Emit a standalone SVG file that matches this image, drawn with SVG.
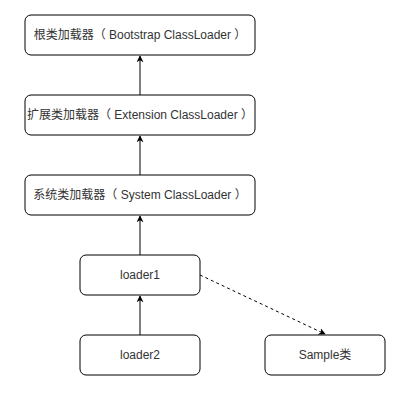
<svg xmlns="http://www.w3.org/2000/svg" width="402" height="400" viewBox="0 0 402 400">
<style>
.n{fill:#fff;stroke:#000;stroke-width:1}
.t{font-family:"Liberation Sans","Noto Sans CJK SC",sans-serif;font-size:12px;fill:#333;text-anchor:middle}
.c{stroke:#000;stroke-width:1;fill:none}
</style>
<defs>
<marker id="a" viewBox="0 0 10 10" refX="9" refY="5" markerWidth="7" markerHeight="7" orient="auto" markerUnits="userSpaceOnUse">
<path d="M0,0 L10,5 L0,10 L3,5 z" fill="#000"/>
</marker>
</defs>
<rect width="402" height="400" fill="#fff"/>
<g id="connectors">
<line class="c" x1="140" y1="95" x2="140" y2="56" marker-end="url(#a)"/>
<line class="c" x1="140" y1="175" x2="140" y2="136" marker-end="url(#a)"/>
<line class="c" x1="140" y1="255" x2="140" y2="216" marker-end="url(#a)"/>
<line class="c" x1="140" y1="335" x2="140" y2="296" marker-end="url(#a)"/>
<line class="c" x1="200" y1="275" x2="325" y2="334" stroke-dasharray="3,3" marker-end="url(#a)"/>
</g>
<g id="bootstrap"><rect class="n" x="25" y="15" width="230" height="40" rx="6"/><text class="t" x="140" y="39">根类加载器（ Bootstrap ClassLoader ）</text></g>
<g id="extension"><rect class="n" x="25" y="95" width="230" height="40" rx="6"/><text class="t" x="140" y="119">扩展类加载器（ Extension ClassLoader ）</text></g>
<g id="system"><rect class="n" x="25" y="175" width="230" height="40" rx="6"/><text class="t" x="140" y="199">系统类加载器（ System ClassLoader ）</text></g>
<g id="loader1"><rect class="n" x="80" y="255" width="120" height="40" rx="6"/><text class="t" x="140" y="279">loader1</text></g>
<g id="loader2"><rect class="n" x="80" y="335" width="120" height="40" rx="6"/><text class="t" x="140" y="359">loader2</text></g>
<g id="sample"><rect class="n" x="265" y="335" width="120" height="40" rx="6"/><text class="t" x="325" y="359">Sample类</text></g>
</svg>
